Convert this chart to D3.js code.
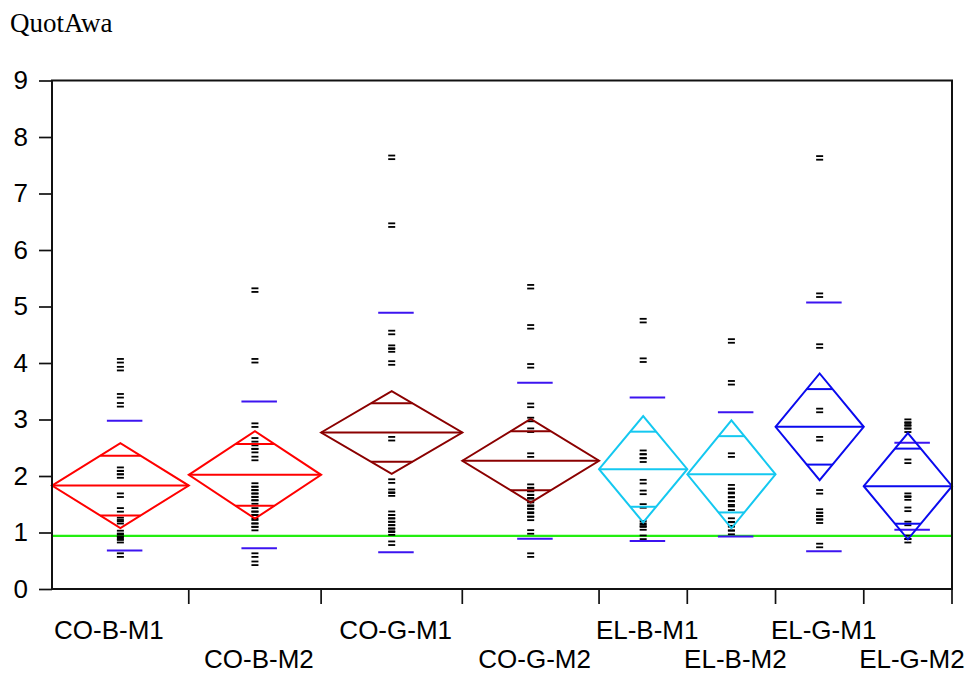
<!DOCTYPE html>
<html>
<head>
<meta charset="utf-8">
<script src="https://cdn.jsdelivr.net/npm/d3@7"></script>
<style>
  html, body { margin: 0; padding: 0; background: #fff; }
  svg { display: block; }
</style>
</head>
<body>
<svg id="chart" width="967" height="675"></svg>
<script>
// Groups, in plotting order
const categories = ["CO-B-M1", "CO-B-M2", "CO-G-M1", "CO-G-M2", "EL-B-M1", "EL-B-M2", "EL-G-M1", "EL-G-M2"];
// Group sizes (set each group's width on the axis)
const groupN = [31, 30, 32, 31, 20, 20, 20, 20];
// Group means, 95% confidence half-widths and standard deviations
const means  = [1.83, 2.02, 2.77, 2.27, 2.12, 2.03, 2.87, 1.82];
const ciHalf = [0.75, 0.775, 0.73, 0.74, 0.94, 0.955, 0.945, 0.94];
const stdDev = [1.15, 1.30, 2.12, 1.38, 1.27, 1.10, 2.20, 0.77];
// Diamond colours per group
const diamondColors = ["#ff0000", "#ff0000", "#8b0000", "#8b0000", "#14c8f0", "#14c8f0", "#0a0aee", "#0a0aee"];
// Observations per group
const obsCOBM1 = [4.04, 3.90, 3.42, 3.26, 2.12, 2.06, 2.00, 1.66, 1.40, 1.23, 1.19, 1.00, 0.95, 0.90, 0.855, 0.60];
const obsCOBM2 = [5.29, 4.04, 2.90, 2.64, 2.51, 2.45, 2.31, 1.84, 1.78, 1.72, 1.66, 1.60, 1.54, 1.40, 1.34, 1.28, 1.19, 1.13, 1.07, 0.60, 0.455];
const obsCOGM1 = [7.64, 6.44, 4.54, 4.28, 4.23, 4.00, 2.66, 1.91, 1.73, 1.68, 1.34, 1.28, 1.22, 1.16, 1.10, 1.04, 0.99, 0.81];
const obsCOGM2 = [5.35, 4.64, 3.95, 3.25, 3.00, 2.81, 2.37, 1.82, 1.76, 1.70, 1.63, 1.58, 1.50, 1.45, 1.39, 1.31, 1.25, 1.01, 0.60];
const obsELBM1 = [4.75, 4.05, 2.42, 2.35, 2.28, 1.90, 1.71, 1.47, 1.17, 1.13, 1.08, 0.915];
const obsELBM2 = [4.39, 3.65, 2.37, 1.81, 1.74, 1.66, 1.59, 1.52, 1.43, 1.22, 1.15, 1.07, 1.00];
const obsELGM1 = [7.63, 5.20, 4.30, 3.16, 2.66, 1.72, 1.38, 1.32, 1.26, 1.20, 0.77];
const obsELGM2 = [2.97, 2.92, 2.87, 2.81, 2.26, 1.66, 1.61, 1.41, 1.16, 0.915, 0.855];
const observations = [obsCOBM1, obsCOBM2, obsCOGM1, obsCOGM2, obsELBM1, obsELBM2, obsELGM1, obsELGM2];
// Reference line value
const refValue = [0.94];
// Y axis ticks
const yTicks = [0, 1, 2, 3, 4, 5, 6, 7, 8, 9];
const yTitle = "QuotAwa";

const svg = d3.select("#chart");
const frame = { left: 52, right: 952, top: 80.5, bottom: 589 };

const y = d3.scaleLinear().domain([0, 9]).range([frame.bottom, frame.top]);

// Cumulative group sizes give the group boundaries on a linear scale
const cum = [0];
groupN.forEach(n => cum.push(cum[cum.length - 1] + n));
const xN = d3.scaleLinear().domain([0, cum[cum.length - 1]]).range([frame.left, frame.right]);

const groups = categories.map((c, i) => ({
  name: c,
  x0: xN(cum[i]),
  x1: xN(cum[i + 1]),
  xc: xN((cum[i] + cum[i + 1]) / 2),
  mean: means[i],
  ci: ciHalf[i],
  sd: stdDev[i],
  color: diamondColors[i],
  obs: observations[i]
}));

// Title
svg.append("text")
  .attr("x", 10).attr("y", 32)
  .attr("font-family", "'Liberation Serif', 'Times New Roman', serif")
  .attr("font-size", 27)
  .attr("fill", "#000")
  .text(yTitle);

// Y axis
const yAxis = d3.axisLeft(y).tickValues(yTicks).tickSize(13).tickPadding(11).tickFormat(d3.format("d"));
const gy = svg.append("g").attr("transform", `translate(${frame.left},0)`).call(yAxis);
gy.select(".domain").remove();
gy.selectAll(".tick line").attr("stroke", "#111").attr("stroke-width", 1.7);
gy.selectAll(".tick text")
  .attr("font-family", "'Liberation Sans', Arial, sans-serif")
  .attr("font-size", 26)
  .attr("fill", "#000");

// Reference line
const plot = svg.append("g");
plot.selectAll("line.ref").data(refValue).join("line")
  .attr("class", "ref")
  .attr("x1", frame.left).attr("x2", frame.right)
  .attr("y1", d => y(d)).attr("y2", d => y(d))
  .attr("stroke", "#22ee10").attr("stroke-width", 2.2);

// Observations drawn as small double-dash markers at the group centre
const mk = plot.append("g");
groups.forEach(g => {
  g.obs.forEach(v => {
    const cy = y(v);
    mk.append("rect").attr("x", g.xc - 3.5).attr("y", cy - 2.7).attr("width", 7).attr("height", 1.8).attr("fill", "#000");
    mk.append("rect").attr("x", g.xc - 3.5).attr("y", cy + 0.9).attr("width", 7).attr("height", 1.8).attr("fill", "#000");
  });
});

// Standard-deviation lines
groups.forEach(g => {
  [g.mean + g.sd, g.mean - g.sd].forEach(v => {
    plot.append("line")
      .attr("x1", g.xc - 13.5).attr("x2", g.xc + 22)
      .attr("y1", y(v)).attr("y2", y(v))
      .attr("stroke", "#3c14f0").attr("stroke-width", 2);
  });
});

// Means diamonds with overlap marks
groups.forEach(g => {
  const top = y(g.mean + g.ci), bot = y(g.mean - g.ci), mid = y(g.mean);
  const gd = plot.append("g").attr("fill", "none").attr("stroke", g.color).attr("stroke-width", 2);
  gd.append("path")
    .attr("d", `M${g.x0},${mid}L${g.xc},${top}L${g.x1},${mid}L${g.xc},${bot}Z`)
    .attr("stroke-linejoin", "miter");
  gd.append("line").attr("x1", g.x0).attr("x2", g.x1).attr("y1", mid).attr("y2", mid);
  const half = (g.x1 - g.x0) / 2;
  const f = 1 / Math.SQRT2;
  [g.mean + g.ci * f, g.mean - g.ci * f].forEach(v => {
    const w = half * (1 - f);
    gd.append("line").attr("x1", g.xc - w).attr("x2", g.xc + w).attr("y1", y(v)).attr("y2", y(v));
  });
});

// Frame
svg.append("rect")
  .attr("x", frame.left).attr("y", frame.top)
  .attr("width", frame.right - frame.left).attr("height", frame.bottom - frame.top)
  .attr("fill", "none").attr("stroke", "#111").attr("stroke-width", 2);

// X ticks at the group boundaries
svg.append("g").selectAll("line").data(cum.slice(1)).join("line")
  .attr("x1", d => xN(d)).attr("x2", d => xN(d))
  .attr("y1", frame.bottom).attr("y2", frame.bottom + 15)
  .attr("stroke", "#111").attr("stroke-width", 1.7);

// Group labels on two staggered rows; the first one sits flush with the frame
svg.append("g").selectAll("text").data(groups).join("text")
  .attr("x", (d, i) => i === 0 ? frame.left + 2 : d.xc + 4)
  .attr("y", (d, i) => i % 2 === 0 ? 639 : 668)
  .attr("text-anchor", (d, i) => i === 0 ? "start" : "middle")
  .attr("font-family", "'Liberation Sans', Arial, sans-serif")
  .attr("font-size", 26)
  .attr("fill", "#000")
  .text(d => d.name);
</script>
</body>
</html>
